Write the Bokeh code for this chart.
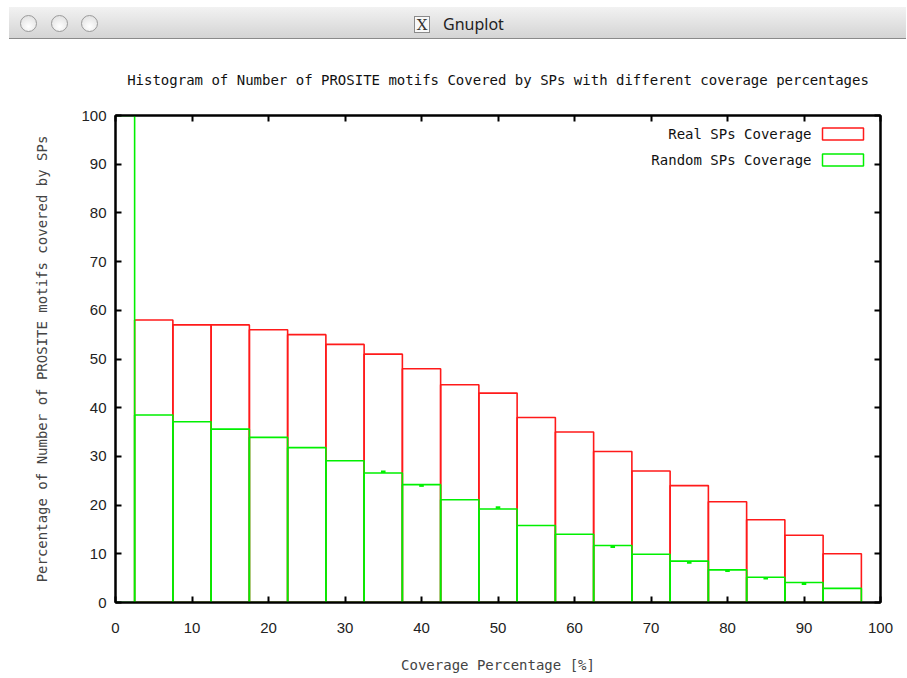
from bokeh.plotting import figure
from bokeh.layouts import column
from bokeh.models import Range1d, LinearAxis, Label, BoxAnnotation, CustomJSTickFormatter, FixedTicker, Div
from bokeh.embed import file_html
from bokeh.resources import INLINE

# ---------------- data ----------------
bin_width = 5
real_centers = [5, 10, 15, 20, 25, 30, 35, 40, 45, 50, 55, 60, 65, 70, 75, 80, 85, 90, 95]
real_values = [58, 57, 57, 56, 55, 53, 51, 48, 44.7, 43, 38, 35, 31, 27, 24, 20.7, 17, 13.8, 10]
random_centers = [0, 5, 10, 15, 20, 25, 30, 35, 40, 45, 50, 55, 60, 65, 70, 75, 80, 85, 90, 95]
random_values = [100, 38.5, 37.1, 35.6, 33.9, 31.8, 29.1, 26.6, 24.2, 21.1, 19.2, 15.8, 14.0,
                 11.7, 9.9, 8.5, 6.7, 5.2, 4.1, 2.9]
random_err = [0, 0, 0, 0, 0, 0, 0, 0.25, -0.2, 0, 0.3, 0, 0, -0.25, 0, -0.3, -0.2, -0.2, -0.25, 0]
x_ticks = [0, 10, 20, 30, 40, 50, 60, 70, 80, 90, 100]
y_ticks = [0, 10, 20, 30, 40, 50, 60, 70, 80, 90, 100]

window_title = "Gnuplot"
title_text = "Histogram of Number of PROSITE motifs Covered by SPs with different coverage percentages"
x_label = "Coverage Percentage [%]"
y_label = "Percentage of Number of PROSITE motifs covered by SPs"
legend_real = "Real SPs Coverage"
legend_random = "Random SPs Coverage"

MONO = "DejaVu Sans Mono"
RED = "#ff1a1a"
GREEN = "#00f000"

W = 906
TB_H = 40
MAIN_H = 636

# ---------------- window title bar (HTML) ----------------
def dot(left):
    return ('<span style="position:absolute;left:%dpx;top:15px;width:17px;height:17px;'
            'border-radius:50%%;border:1px solid #9a9a9a;'
            'background:radial-gradient(circle at 50%% 70%%,#ffffff,#dcdcdc);"></span>' % left)

bar_html = (
    '<div style="position:relative;width:%dpx;height:%dpx;margin:0;padding:0;">' % (W, TB_H)
    + '<div style="position:absolute;left:9px;top:7px;width:%dpx;height:32px;'
      'background:linear-gradient(#f2f2f2,#d4d4d4);border-bottom:1px solid #8a8a8a;"></div>' % (W - 9)
    + dot(20) + dot(51) + dot(81)
    + '<span style="position:absolute;left:414px;top:16px;width:16px;height:17px;'
      'border:1px solid #8a8a8a;background:#f8f8f8;font-family:\'DejaVu Serif\';font-size:15px;'
      'line-height:17px;text-align:center;color:#333;">X</span>'
    + '<span style="position:absolute;left:443px;top:14px;font-family:\'Noto Sans\';font-size:16px;'
      'line-height:20px;color:#222;">%s</span>' % window_title
    + '</div>'
)
tb = Div(text=bar_html, width=W, height=TB_H, styles={"margin": "0", "padding": "0"})

# ---------------- main plot ----------------
p = figure(width=W, height=MAIN_H, x_range=Range1d(0, 100), y_range=Range1d(0, 100),
           output_backend="svg", toolbar_location=None,
           min_border_left=115, min_border_right=W - 880, min_border_top=75, min_border_bottom=74)
p.background_fill_color = "white"
p.border_fill_color = "white"
p.grid.visible = False
p.outline_line_color = "black"
p.outline_line_width = 2

p.title.text = title_text
p.title.text_font = MONO
p.title.text_font_size = "14px"
p.title.text_font_style = "normal"
p.title.text_color = "#111111"
p.title.align = "center"
p.title.standoff = 56

p.xaxis.ticker = FixedTicker(ticks=x_ticks)
p.yaxis.ticker = FixedTicker(ticks=y_ticks)
for ax in (p.xaxis[0], p.yaxis[0]):
    ax.axis_line_color = "black"
    ax.axis_line_width = 2
    ax.major_tick_in = 6
    ax.major_tick_out = 0
    ax.major_tick_line_width = 2
    ax.minor_tick_line_color = None
    ax.major_label_text_font = "Liberation Sans"
    ax.major_label_text_font_size = "15px"
    ax.major_label_text_color = "#222222"
    ax.axis_label_text_font = MONO
    ax.axis_label_text_font_size = "14px"
    ax.axis_label_text_font_style = "normal"
p.xaxis.axis_label = x_label
p.yaxis.axis_label = y_label
p.xaxis.major_label_standoff = 20
p.xaxis.axis_label_standoff = 21
p.yaxis.major_label_standoff = 9
p.yaxis.axis_label_standoff = 28

# mirror ticks (top / right)
for loc, ticks in (("above", x_ticks), ("right", y_ticks)):
    ax = LinearAxis(ticker=FixedTicker(ticks=ticks),
                    formatter=CustomJSTickFormatter(code="return ''"))
    ax.axis_line_color = "black"
    ax.axis_line_width = 2
    ax.major_tick_in = 6
    ax.major_tick_out = 0
    ax.major_tick_line_width = 2
    ax.minor_tick_line_color = None
    ax.major_label_standoff = 0
    ax.major_label_text_font_size = "1px"
    p.add_layout(ax, loc)

# bars
half = bin_width / 2
p.quad(left=[c - half for c in real_centers], right=[c + half for c in real_centers],
       bottom=0, top=real_values, fill_color=None, line_color=RED, line_width=1.6)
p.quad(left=[c - half for c in random_centers], right=[c + half for c in random_centers],
       bottom=0, top=random_values, fill_color=None, line_color=GREEN, line_width=1.6)

# small error marks on random bars
ex, ey = [], []
for c, v, e in zip(random_centers, random_values, random_err):
    if e != 0:
        ex.append(c)
        ey.append(v + e)
p.segment(x0=[c - 0.3 for c in ex], x1=[c + 0.3 for c in ex], y0=ey, y1=ey,
          line_color=GREEN, line_width=2.5)

# gnuplot-style key (text right, sample box on the right)
for txt, col, yc in ((legend_real, RED, 468.5), (legend_random, GREEN, 442.5)):
    p.add_layout(Label(x=696, y=yc, x_units="screen", y_units="screen", text=txt,
                       text_font=MONO, text_font_size="14px", text_align="right",
                       text_baseline="middle", text_color="#111111"))
    p.add_layout(BoxAnnotation(left=707, right=748, bottom=yc - 6, top=yc + 6,
                               left_units="screen", right_units="screen",
                               bottom_units="screen", top_units="screen",
                               fill_alpha=0, line_color=col, line_width=1.5, line_alpha=1))

layout = column(tb, p, spacing=0)
open("out.html", "w").write(file_html(layout, INLINE))
